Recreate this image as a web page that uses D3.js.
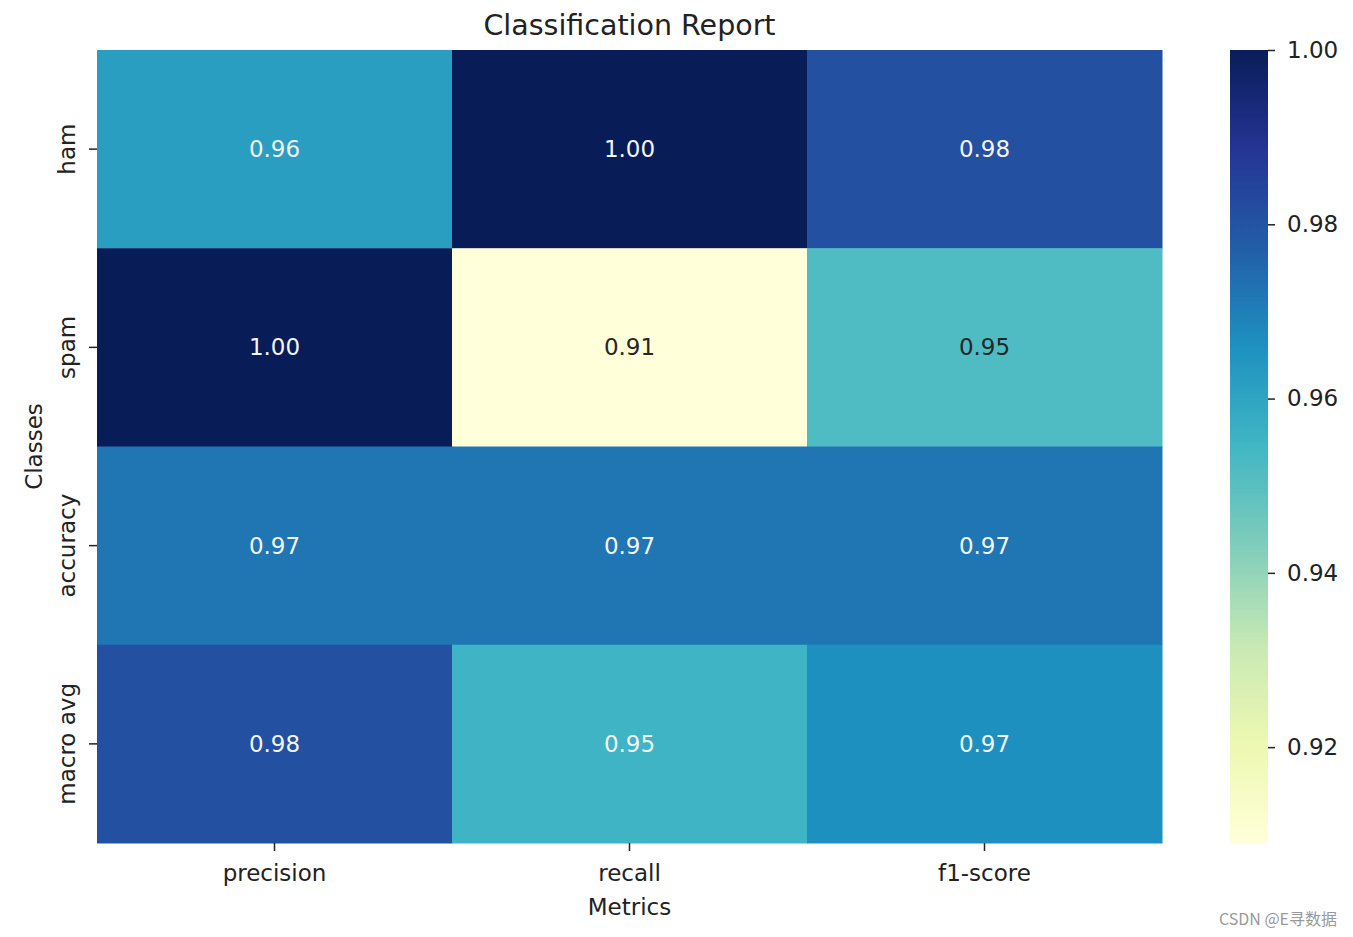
<!DOCTYPE html>
<html><head><meta charset="utf-8">
<script src="https://cdn.jsdelivr.net/npm/d3@7"></script>
<style>body{margin:0;background:#fff;} svg{display:block;font-family:"DejaVu Sans",sans-serif;}</style>
</head><body>
<svg id="c" width="1353" height="937"></svg>
<script>
const metrics = ["precision", "recall", "f1-score"];
const classes = ["ham", "spam", "accuracy", "macro avg"];
const valuesHam = [0.962, 1.000, 0.981];
const valuesSpam = [1.000, 0.909, 0.952];
const valuesAccuracy = [0.972, 0.972, 0.972];
const valuesMacro = [0.981, 0.955, 0.966];
const colorbarTicks = [0.92, 0.94, 0.96, 0.98, 1.00];
const ylgnbu = ["#ffffd9","#edf8b1","#c7e9b4","#7fcdbb","#41b6c4","#1d91c0","#225ea8","#253494","#081d58"];

const rows = [valuesHam, valuesSpam, valuesAccuracy, valuesMacro];
const cells = [];
rows.forEach((r, i) => r.forEach((v, j) => cells.push({cls: classes[i], metric: metrics[j], v})));

const vmin = d3.min(cells, d => d.v), vmax = d3.max(cells, d => d.v);
const tScale = d3.scaleLinear().domain([vmin, vmax]).range([0, 1]);
const cmap = d3.scaleLinear().domain(ylgnbu.map((_, i) => i / (ylgnbu.length - 1))).range(ylgnbu).interpolate(d3.interpolateRgb).clamp(true);
const color = v => cmap(tScale(v));

function lum(c) {
  const rgb = d3.rgb(c);
  const f = x => { x /= 255; return x <= 0.03928 ? x / 12.92 : Math.pow((x + 0.055) / 1.055, 2.4); };
  return 0.2126 * f(rgb.r) + 0.7152 * f(rgb.g) + 0.0722 * f(rgb.b);
}

const FS = 23;
const svg = d3.select("#c");
const L = 97, R = 1162, T = 50, B = 843;
const x = d3.scaleBand().domain(metrics).range([L, R]);
const y = d3.scaleBand().domain(classes).range([T, B]);

svg.append("g").selectAll("rect").data(cells).join("rect")
  .attr("x", d => x(d.metric)).attr("y", d => y(d.cls))
  .attr("width", x.bandwidth() + 0.5).attr("height", y.bandwidth() + 0.5)
  .attr("fill", d => color(d.v));

svg.append("g").selectAll("text").data(cells).join("text")
  .attr("x", d => x(d.metric) + x.bandwidth() / 2)
  .attr("y", d => y(d.cls) + y.bandwidth() / 2)
  .attr("text-anchor", "middle").attr("dominant-baseline", "central")
  .attr("font-size", FS)
  .attr("fill", d => lum(color(d.v)) > 0.408 ? "#262626" : "#f4f4f4")
  .text(d => d.v.toFixed(2));

const xAxis = svg.append("g").attr("transform", `translate(0,${B})`)
  .call(d3.axisBottom(x).tickSize(8).tickPadding(14));
xAxis.select(".domain").remove();
xAxis.selectAll("text").attr("font-size", FS).attr("fill", "#222").attr("font-family", "DejaVu Sans");
xAxis.selectAll("line").attr("stroke", "#222").attr("stroke-width", 1.5);

const yAxis = svg.append("g").attr("transform", `translate(${L},0)`)
  .call(d3.axisLeft(y).tickSize(8).tickPadding(8));
yAxis.select(".domain").remove();
yAxis.selectAll("line").attr("stroke", "#222").attr("stroke-width", 1.5);
yAxis.selectAll("text").attr("font-size", FS).attr("fill", "#222").attr("font-family", "DejaVu Sans")
  .attr("text-anchor", "middle").attr("dy", null).attr("dominant-baseline", "central")
  .attr("x", 0).attr("transform", "translate(-30,0) rotate(-90)");

svg.append("text").attr("x", (L + R) / 2).attr("y", 907).attr("text-anchor", "middle")
  .attr("dominant-baseline", "central").attr("font-size", FS).attr("fill", "#222").text("Metrics");
svg.append("text").attr("transform", `translate(34,${(T + B) / 2}) rotate(-90)`).attr("text-anchor", "middle")
  .attr("dominant-baseline", "central").attr("font-size", FS).attr("fill", "#222").text("Classes");
svg.append("text").attr("x", (L + R) / 2).attr("y", 25).attr("text-anchor", "middle")
  .attr("dominant-baseline", "central").attr("font-size", 28.5).attr("fill", "#222").text("Classification Report");

// colorbar
const cbX = 1230, cbW = 38;
const cy = d3.scaleLinear().domain([vmin, vmax]).range([B, T]);
const defs = svg.append("defs");
const grad = defs.append("linearGradient").attr("id", "g").attr("x1", 0).attr("x2", 0).attr("y1", 1).attr("y2", 0);
ylgnbu.forEach((c, i) => grad.append("stop").attr("offset", i / (ylgnbu.length - 1)).attr("stop-color", c));
svg.append("rect").attr("x", cbX).attr("y", T).attr("width", cbW).attr("height", B - T).attr("fill", "url(#g)");
const cAxis = svg.append("g").attr("transform", `translate(${cbX + cbW},0)`)
  .call(d3.axisRight(cy).tickValues(colorbarTicks).tickFormat(d3.format(".2f")).tickSize(7).tickPadding(12));
cAxis.select(".domain").remove();
cAxis.selectAll("line").attr("stroke", "#222").attr("stroke-width", 1.5);
cAxis.selectAll("text").attr("font-size", FS).attr("fill", "#222").attr("font-family", "DejaVu Sans");

svg.append("text").attr("x", 1337).attr("y", 925).attr("text-anchor", "end")
  .attr("font-family", "'Noto Sans CJK SC', sans-serif").attr("font-size", 16).attr("fill", "#999").text("CSDN @E寻数据");
</script>
</body></html>
